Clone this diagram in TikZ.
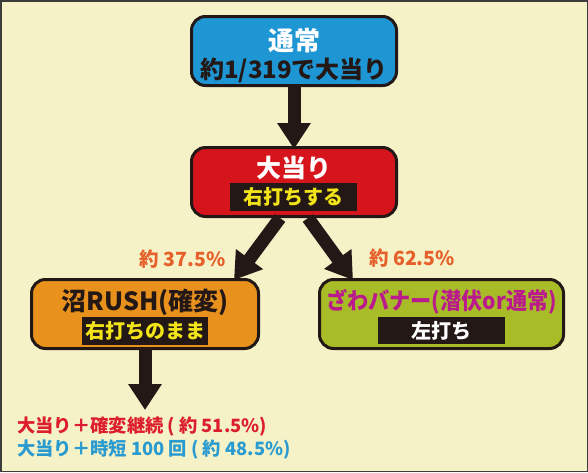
\documentclass[tikz,border=0pt]{standalone}
\usepackage{fontspec}
\setmainfont{Noto Sans CJK JP}
\usetikzlibrary{arrows.meta}
\definecolor{bgc}{RGB}{245,242,200}
\definecolor{framec}{RGB}{60,60,60}
\definecolor{ink}{RGB}{35,24,21}
\definecolor{boxblue}{RGB}{30,150,212}
\definecolor{boxred}{RGB}{214,20,27}
\definecolor{boxorange}{RGB}{232,145,28}
\definecolor{boxgreen}{RGB}{168,188,40}
\definecolor{yel}{RGB}{242,228,24}
\definecolor{mag}{RGB}{186,26,140}
\definecolor{lblorange}{RGB}{229,96,42}
\definecolor{txtred}{RGB}{220,30,45}
\definecolor{txtblue}{RGB}{42,155,208}
\begin{document}
\begin{tikzpicture}[x=1pt,y=-1pt,
  box/.style={draw=ink, line width=3pt, rounded corners=14pt, minimum height=69pt, inner sep=0pt},
  band/.style={fill=ink, inner sep=0pt, minimum height=28pt, minimum width=127pt,
    font=\bfseries\fontsize{20}{20}\selectfont},
  title/.style={inner sep=0pt, font=\bfseries\fontsize{25}{25}\selectfont},
  bigarrow/.style={draw=ink, line width=13pt, -{Triangle[width=32pt,length=26pt]}},
  pct/.style={inner sep=0pt, text=lblorange, font=\bfseries\fontsize{19.5}{19.5}\selectfont},
  result/.style={inner sep=0pt, anchor=west, font=\bfseries\fontsize{18.3}{18.3}\selectfont}]
\useasboundingbox (0,0) rectangle (588,472);
\fill[bgc] (0,0) rectangle (588,472);
\draw[framec, line width=1.5pt] (0.75,0.75) rectangle (587.25,471.25);

% boxes
\node[box, fill=boxblue, minimum width=205pt] (b1) at (294,51) {};
\node[box, fill=boxred, minimum width=205pt] (b2) at (294,182) {};
\node[box, fill=boxorange, minimum width=227pt] (b3) at (145,314) {};
\node[box, fill=boxgreen, minimum width=244pt] (b4) at (441.5,314) {};

% box texts
\node[title, text=white, font=\bfseries\fontsize{26}{26}\selectfont] (t1) at (294,41) {通常};
\node[title, text=ink, font=\bfseries\fontsize{24}{24}\selectfont] (t1b) at (294,70) {約1/319で大当り};
\node[title, text=white] (t2) at (294,168) {大当り};
\node[band, text=yel] (s2) at (293.5,197) {右打ちする};
\node[title, text=ink] (t3) at (145,302) {沼RUSH(確変)};
\node[band, text=yel, minimum width=126pt] (s3) at (145,331) {右打ちのまま};
\node[title, text=mag, font=\bfseries\fontsize{23}{23}\selectfont, xscale=0.92] (t4) at (441.5,302) {ざわバナー(潜伏or通常)};
\node[band, text=white, minimum height=27pt] (s4) at (441.5,330.5) {左打ち};

% arrows
\coordinate (c3) at (145,410);
\draw[bigarrow] (b1.south) -- ([yshift=-3pt]b2.north);
\draw[bigarrow] ([xshift=-14pt]b2.south) -- ([xshift=-26pt,yshift=-2pt]b3.north east);
\draw[bigarrow] ([xshift=14pt]b2.south) -- ([xshift=35pt,yshift=-2pt]b4.north west);
\draw[bigarrow] (b3.south) -- (c3);

% labels
\node[pct] (p1) at (182.5,259) {約 37.5\%};
\node[pct] (p2) at (412,258) {約 62.5\%};
\node[result, text=txtred] (r1) at (17,427) {大当り＋確変継続 ( 約 51.5\%)};
\node[result, text=txtblue] (r2) at (17,450) {大当り＋時短 100 回 ( 約 48.5\%)};
\end{tikzpicture}
\end{document}
